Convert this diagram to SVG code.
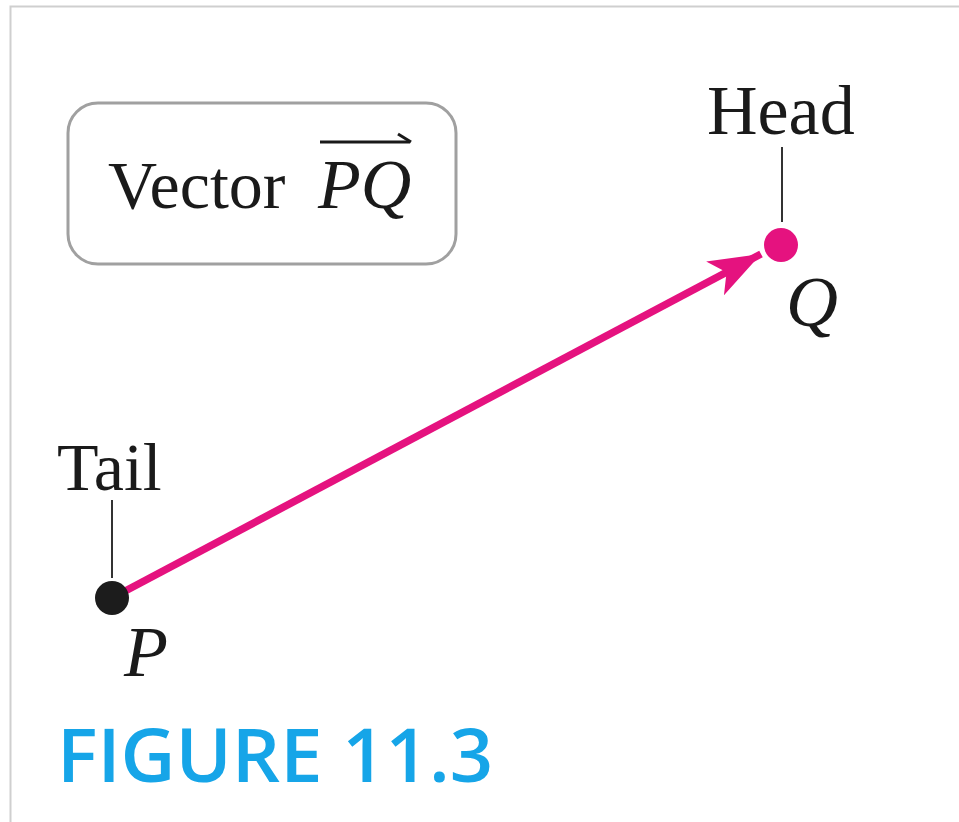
<svg xmlns="http://www.w3.org/2000/svg" width="959" height="822" viewBox="0 0 959 822">
<style>
.serif{font-family:"Liberation Serif","Times New Roman",serif;fill:#1a1a1a}
.it{font-style:italic}
.lead{stroke:#333;stroke-width:2}
</style>
<defs>
<marker id="ah" markerUnits="userSpaceOnUse" markerWidth="60" markerHeight="44" refX="52" refY="22" orient="auto">
<path d="M52,22 L0,3 L13,22 L0,41 Z" fill="#e5127f"/>
</marker>
</defs>
<rect width="959" height="822" fill="#fff"/>
<path d="M10.5,822 V6.5 H959" fill="none" stroke="#cfcfcf" stroke-width="2"/>
<g id="label-box">
<rect x="68" y="103" width="388" height="161" rx="30" fill="#fff" stroke="#a0a0a0" stroke-width="3"/>
<text x="108" y="208" class="serif" font-size="68">Vector</text>
<text x="318" y="208" class="serif it" font-size="70">PQ</text>
<path d="M320,142 H410" stroke="#1a1a1a" stroke-width="3" fill="none"/>
<path d="M398,134 L411,142" stroke="#1a1a1a" stroke-width="3" fill="none"/>
</g>
<g id="connectors">
<line x1="112" y1="598" x2="761" y2="254" stroke="#e5127f" stroke-width="7.5" marker-end="url(#ah)"/>
<line class="lead" x1="112" y1="500" x2="112" y2="578"/>
<line class="lead" x1="782" y1="147" x2="782" y2="222"/>
</g>
<g id="P">
<circle cx="112" cy="598" r="17" fill="#1c1c1c"/>
<text x="57" y="490" class="serif" font-size="68">Tail</text>
<text x="124" y="676" class="serif it" font-size="72">P</text>
</g>
<g id="Q">
<circle cx="781" cy="245" r="17" fill="#e5127f"/>
<text x="707" y="134" class="serif" font-size="70">Head</text>
<text x="786" y="326" class="serif it" font-size="72">Q</text>
</g>
<g id="caption">
<text x="57" y="782" font-family="'Open Sans',sans-serif" font-weight="600" font-size="75" fill="#16a5e8" textLength="436" lengthAdjust="spacingAndGlyphs">FIGURE 11.3</text>
</g>
</svg>
